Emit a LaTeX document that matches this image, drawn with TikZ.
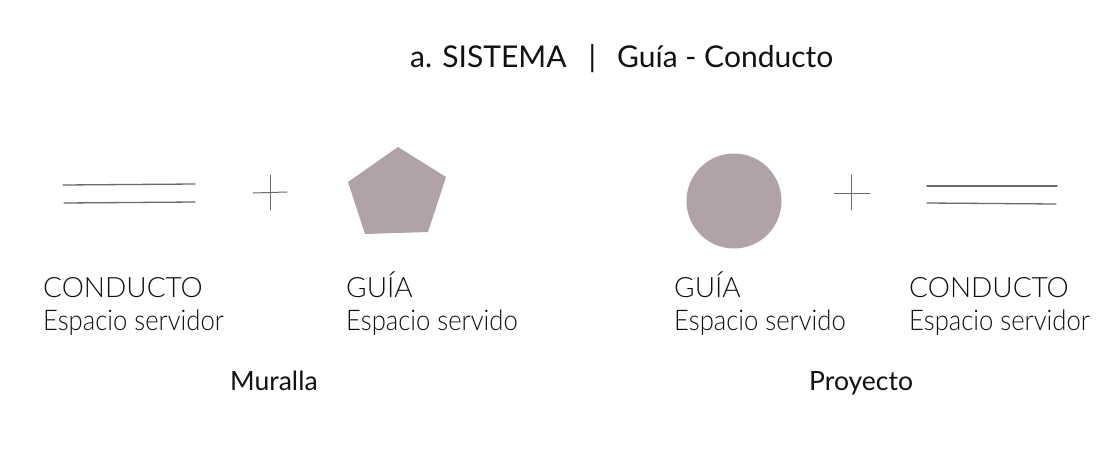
\documentclass[tikz,border=0pt]{standalone}
\usepackage{fontspec}
\setmainfont{Lato Light}
\newfontfamily\regfont{Lato}
\usetikzlibrary{positioning}
\definecolor{shape}{HTML}{B0A2A8}
\definecolor{ink}{HTML}{111111}
\definecolor{pen}{HTML}{6A6A6A}
\tikzset{
  lbl/.style={anchor=base west, inner sep=0pt, text=ink, font=\fontsize{28}{32}\selectfont},
  sub/.style={lbl, font=\fontsize{28.5}{32}\selectfont},
  ttl/.style={anchor=base west, inner sep=0pt, text=ink, font=\regfont\fontsize{30}{34}\selectfont},
  captxt/.style={anchor=base west, inner sep=0pt, text=ink, font=\regfont\fontsize{26.5}{30}\selectfont},
  pline/.style={draw=pen, line width=1.3pt, line cap=round},
  shp/.style={fill=shape, draw=none}
}
\newcommand{\narrow}[1]{\scalebox{0.9}[1]{#1}}
\begin{document}
\begin{tikzpicture}[x=1pt,y=-1pt]
\useasboundingbox (0,0) rectangle (1112,453);
\node[ttl] (title) at (410,67) {a. SISTEMA\hspace{22pt}|\hspace{21pt}Guía - Conducto};
% left group
\coordinate (l1a) at (63,185); \coordinate (l1b) at (195,184);
\coordinate (l2a) at (64,203); \coordinate (l2b) at (195,202);
\draw[pline] (l1a) -- (l1b);
\draw[pline] (l2a) -- (l2b);
\coordinate (p1h1) at (253,193); \coordinate (p1h2) at (287,192);
\coordinate (p1v1) at (270,175); \coordinate (p1v2) at (270,210);
\draw[pline, line width=1pt] (p1h1) -- (p1h2);
\draw[pline, line width=1pt] (p1v1) -- (p1v2);
\fill[shp] (398,147) coordinate (pa) -- (446,177) coordinate (pb) -- (428,232) coordinate (pc) -- (365,234) coordinate (pd) -- (348,182) coordinate (pe) -- cycle;
% right group
\node[shp, circle, minimum size=95pt, inner sep=0pt] (circ) at (734,201) {};
\coordinate (p2h1) at (834,193); \coordinate (p2h2) at (870,193);
\coordinate (p2v1) at (851,175); \coordinate (p2v2) at (851,210);
\draw[pline, line width=1pt] (p2h1) -- (p2h2);
\draw[pline, line width=1pt] (p2v1) -- (p2v2);
\coordinate (r1a) at (927,186); \coordinate (r1b) at (1057,186);
\coordinate (r2a) at (927,203); \coordinate (r2b) at (1056,204);
\draw[pline] (r1a) -- (r1b);
\draw[pline] (r2a) -- (r2b);
% labels
\node[lbl] (c1) at (43,297) {CONDUCTO};
\node[sub] (e1) at (43,330) {\narrow{Espacio servidor}};
\node[lbl] (g1) at (346,297) {GUÍA};
\node[sub] (e2) at (346,330) {\narrow{Espacio servido}};
\node[lbl] (g2) at (674,297) {GUÍA};
\node[sub] (e3) at (674,330) {\narrow{Espacio servido}};
\node[lbl] (c2) at (909,297) {CONDUCTO};
\node[sub] (e4) at (909,330) {\narrow{Espacio servidor}};
\node[captxt] (mur) at (230,390) {Muralla};
\node[captxt] (pro) at (809,390) {Proyecto};
\end{tikzpicture}
\end{document}
